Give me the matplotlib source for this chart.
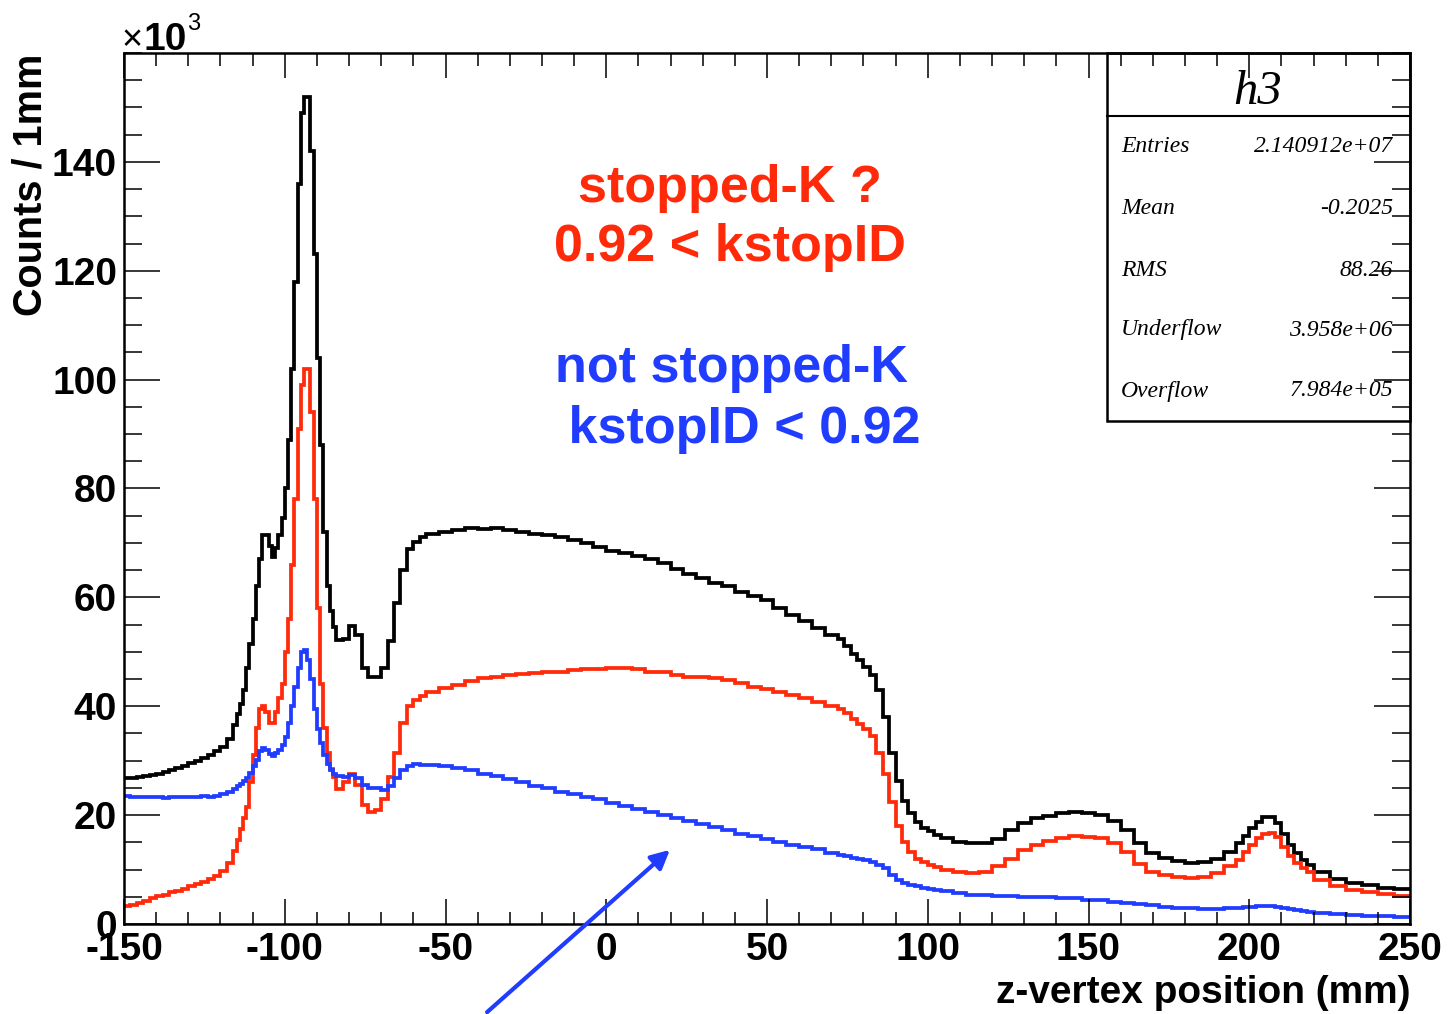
import matplotlib.pyplot as plt
import numpy as np
from matplotlib.patches import Rectangle, FancyArrowPatch
from matplotlib.ticker import MultipleLocator

plt.rcParams['font.family'] = ['Liberation Sans', 'DejaVu Sans']
plt.rcParams['axes.unicode_minus'] = False

# histogram binning (mm); finer bins where the shape changes fast
bin_edges = np.concatenate([
    np.arange(-150, -116, 2),
    np.arange(-116, -84, 1),
    np.arange(-84, -56, 2),
    np.arange(-56, 72, 4),
    np.arange(72, 104, 2),
    np.arange(104, 196, 4),
    np.arange(196, 220, 2),
    np.arange(220, 251, 5),
])

# counts per 1mm, in units of 10^3 -- all events
counts_all = [
    26.8, 26.9, 27.0, 27.1, 27.3, 27.6, 27.9, 28.2, 28.6, 29.0, 29.5, 30.0, 30.5, 31.1, 31.8, 32.6, 34.0,
    36.5, 38.5, 40.5, 43.0, 47.0, 51.5, 56.0, 62.0, 67.0, 71.5, 71.5, 69.5, 67.5, 69.0, 71.5, 74.5,
    80.0, 89.0, 102.0, 118.0, 136.0, 149.0, 152.0, 152.0, 142.0, 123.0, 104.0, 88.0, 72.0, 62.0, 57.5, 54.5,
    52.2, 52.3, 54.8, 53.0, 47.0, 45.3, 45.3, 47.0, 52.0, 59.0, 65.0, 68.8, 70.1, 71.0,
    71.6, 72.0, 72.4, 72.8, 72.6, 72.7, 72.3, 72.0, 71.7, 71.4, 71.0, 70.5, 69.9, 69.2, 68.5, 68.1,
    67.6, 67.0, 66.3, 65.2, 64.3, 63.5, 62.7, 62.0, 61.0, 60.2, 59.5, 58.1, 56.8, 55.6, 54.3, 53.1,
    52.4, 51.0, 49.6, 48.5, 47.3, 45.8, 43.0, 38.0, 31.5, 26.3, 22.6, 20.3, 18.8, 17.7, 17.0, 16.4,
    15.8, 15.0, 14.8, 14.9, 15.7, 17.2, 18.6, 19.4, 19.9, 20.3, 20.6, 20.3, 20.0, 19.0, 17.3, 14.8,
    13.0, 12.1, 11.6, 11.2, 11.3, 11.9, 13.2,
    14.8, 16.2, 17.6, 18.8, 19.6, 19.7, 18.5, 16.5, 14.6, 13.0, 11.8, 10.9,
    9.6, 8.3, 7.6, 7.1, 6.7, 6.4,
]

# stopped-K candidates: 0.92 < kstopID
counts_stopped = [
    3.3, 3.5, 3.9, 4.3, 4.8, 5.1, 5.4, 5.8, 6.1, 6.5, 6.9, 7.3, 7.8, 8.3, 8.9, 9.8, 11.2,
    13.5, 15.5, 17.5, 19.5, 21.5, 26.0, 31.0, 36.0, 39.5, 40.0, 39.0, 37.0, 37.0, 39.0, 41.5, 44.0,
    50.0, 56.0, 66.0, 78.0, 91.0, 99.0, 102.0, 102.0, 94.0, 78.0, 58.0, 44.0, 36.0, 31.5, 28.5, 27.0,
    24.8, 26.0, 27.6, 25.5, 21.8, 20.6, 21.0, 23.0, 27.0, 31.5, 37.0, 40.0, 41.2, 41.8,
    42.7, 43.3, 43.9, 44.6, 45.1, 45.4, 45.8, 46.0, 46.1, 46.2, 46.3, 46.6, 46.8, 46.9, 47.0, 47.0,
    46.8, 46.3, 46.2, 45.8, 45.4, 45.3, 45.2, 44.8, 44.2, 43.6, 43.2, 42.6, 42.1, 41.5, 40.8, 40.0,
    39.5, 38.7, 37.7, 36.8, 35.9, 34.5, 31.5, 27.5, 22.5, 18.0, 15.0, 13.2, 12.0, 11.3, 10.9, 10.4,
    10.0, 9.6, 9.4, 9.6, 10.6, 12.0, 13.6, 14.6, 15.3, 15.8, 16.1, 16.0, 15.8, 14.9, 13.2, 11.0,
    9.6, 9.0, 8.6, 8.4, 8.6, 9.4, 10.6,
    11.8, 13.2, 14.6, 15.8, 16.6, 16.7, 15.9, 14.1, 12.5, 11.2, 10.2, 9.5,
    8.1, 6.9, 6.2, 5.8, 5.5, 5.2,
]

# not stopped-K: kstopID < 0.92
counts_not_stopped = [
    23.6, 23.4, 23.4, 23.3, 23.4, 23.3, 23.2, 23.3, 23.4, 23.3, 23.4, 23.3, 23.5, 23.4, 23.6, 23.8, 24.3,
    24.8, 25.3, 25.7, 26.2, 26.8, 27.8, 29.0, 30.2, 31.8, 32.4, 32.0, 31.2, 30.9, 31.4, 32.0, 32.8,
    34.3, 37.0, 40.0, 43.5, 47.0, 50.0, 50.3, 48.5, 45.0, 39.5, 35.8, 33.2, 31.0, 29.3, 28.2, 27.6,
    27.2, 27.0, 27.4, 26.8, 25.5, 25.0, 24.9, 24.7, 25.3, 26.8, 28.2, 29.0, 29.3, 29.2,
    29.2, 29.0, 28.7, 28.2, 27.5, 27.1, 26.7, 26.1, 25.4, 25.0, 24.3, 23.8, 23.4, 22.9, 22.3, 21.7,
    21.1, 20.6, 20.0, 19.5, 19.0, 18.4, 17.8, 17.3, 16.6, 16.1, 15.6, 15.0, 14.6, 14.2, 13.7, 13.1,
    12.7, 12.4, 12.2, 12.0, 11.7, 11.3, 10.9, 10.3, 9.0, 8.0, 7.5, 7.2, 6.9, 6.7, 6.5, 6.3,
    6.0, 5.7, 5.4, 5.3, 5.2, 5.1, 5.0, 5.0, 4.9, 4.8, 4.7, 4.5, 4.4, 4.1, 3.9, 3.7,
    3.4, 3.2, 3.0, 2.9, 2.8, 2.8, 2.9,
    3.0, 3.1, 3.2, 3.3, 3.3, 3.3, 3.1, 2.9, 2.7, 2.5, 2.3, 2.2,
    2.0, 1.8, 1.6, 1.5, 1.4, 1.3,
]

stat_names = ['Entries', 'Mean', 'RMS', 'Underflow', 'Overflow']
stat_values = ['2.140912e+07', '-0.2025', '88.26', '3.958e+06', '7.984e+05']

RED = '#ff2a0a'
BLUE = '#1f3cff'
W, H = 1451, 1014


def fx(px):
    return px / W


def fy(py):
    return 1 - py / H


fig = plt.figure(figsize=(W / 100, H / 100), dpi=100)
ax = fig.add_axes([fx(124), fy(924), (1410 - 124) / W, (924 - 53) / H])

ax.stairs(counts_all, bin_edges, color='black', lw=2.7, baseline=None)
ax.stairs(counts_stopped, bin_edges, color=RED, lw=2.7, baseline=None)
ax.stairs(counts_not_stopped, bin_edges, color=BLUE, lw=2.7, baseline=None)

ax.set_xlim(-150, 250)
ax.set_ylim(0, 160)
ax.set_xticks(np.arange(-150, 251, 50))
ax.set_yticks(np.arange(0, 141, 20))
ax.xaxis.set_minor_locator(MultipleLocator(10))
ax.yaxis.set_minor_locator(MultipleLocator(5))
ax.tick_params(which='both', direction='in', top=True, right=True, width=1.1)
ax.tick_params(axis='x', which='major', length=18, labelsize=28, pad=6)
ax.tick_params(axis='x', which='minor', length=9)
ax.tick_params(axis='y', which='major', length=26, labelsize=28, pad=5)
ax.tick_params(axis='y', which='minor', length=13)
for lab in ax.get_xticklabels() + ax.get_yticklabels():
    lab.set_fontweight('bold')
for sp in ax.spines.values():
    sp.set_linewidth(1.8)

fig.text(fx(1410), fy(993), 'z-vertex position (mm)', ha='right', va='center',
         fontsize=28, fontweight='bold')
fig.text(fx(30), fy(54), 'Counts / 1mm', rotation=90, ha='center', va='top',
         fontsize=28.5, fontweight='bold')

# x10^3 multiplier
fig.text(fx(121), fy(50), '×', fontsize=26, ha='left', va='baseline')
fig.text(fx(143), fy(50), '10', fontsize=28, fontweight='bold', ha='left', va='baseline')
fig.text(fx(187), fy(30), '3', fontsize=17, ha='left', va='baseline')

# cut annotations
fig.text(fx(730), fy(188), 'stopped-K ?', color=RED, fontsize=37.5, fontweight='bold',
         ha='center', va='center')
fig.text(fx(730), fy(248), '0.92 < kstopID', color=RED, fontsize=37.5, fontweight='bold',
         ha='center', va='center')
fig.text(fx(731), fy(368), 'not stopped-K', color=BLUE, fontsize=37.5, fontweight='bold',
         ha='center', va='center')
fig.text(fx(737), fy(430), ' kstopID < 0.92', color=BLUE, fontsize=37.5, fontweight='bold',
         ha='center', va='center')

fig.add_artist(FancyArrowPatch(
    (fx(485), fy(1014)), (fx(672), fy(848)), transform=fig.transFigure,
    arrowstyle='-|>', mutation_scale=28, color=BLUE, lw=3))

# stats box
box_x0, box_x1 = (1107 - 124) / 1286, 1.0
box_y0, box_y1 = (924 - 421) / 871, 1.0
ax.add_patch(Rectangle((box_x0, box_y0), box_x1 - box_x0, box_y1 - box_y0,
                       transform=ax.transAxes, facecolor='white', edgecolor='black',
                       lw=1.8, zorder=1, clip_on=False))
ax.plot([box_x0, box_x1], [(924 - 116) / 871] * 2, color='black', lw=1.5,
        transform=ax.transAxes, clip_on=False)
ax.text((1258 - 124) / 1286, (924 - 92) / 871, 'h3', transform=ax.transAxes,
        fontsize=35, family='Liberation Serif', style='italic', ha='center', va='center')
row_y = [147, 208, 270, 330, 391]
for name, val, ry in zip(stat_names, stat_values, row_y):
    yy = (924 - ry) / 871
    ax.text((1121 - 124) / 1286, yy, name, transform=ax.transAxes, fontsize=17,
            family='Liberation Serif', style='italic', ha='left', va='center')
    ax.text((1393 - 124) / 1286, yy, val, transform=ax.transAxes, fontsize=17,
            family='Liberation Serif', style='italic', ha='right', va='center')

fig.savefig('out.png', dpi=100)
